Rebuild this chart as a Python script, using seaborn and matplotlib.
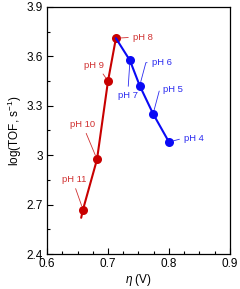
import matplotlib
matplotlib.use("Agg")
import matplotlib.pyplot as plt
import seaborn as sns
import pandas as pd
from matplotlib.ticker import MultipleLocator

sns.set_theme(style="white")
plt.rcParams['font.family'] = ['Liberation Sans', 'DejaVu Sans']
plt.rcParams['mathtext.fontset'] = 'custom'
plt.rcParams['mathtext.it'] = 'Liberation Sans:italic'
plt.rcParams['mathtext.rm'] = 'Liberation Sans'

# Data
red_labels = ["pH 8", "pH 9", "pH 10", "pH 11"]
red_x = [0.713, 0.700, 0.682, 0.659]
red_y = [3.71, 3.45, 2.975, 2.67]
red_tail_x = [0.659, 0.656]
red_tail_y = [2.67, 2.62]

blue_labels = ["pH 8", "pH 7", "pH 6", "pH 5", "pH 4"]
blue_x = [0.713, 0.736, 0.752, 0.774, 0.800]
blue_y = [3.71, 3.575, 3.422, 3.251, 3.08]

RED = "#C80000"
BLUE = "#0A0AF5"
RED_T = "#D03030"
BLUE_T = "#2A2AF0"

fig = plt.figure(figsize=(2.4, 2.89), dpi=100)
ax = fig.add_axes([0.196, 0.121, 0.762, 0.855])

red_df = pd.DataFrame({"x": red_x, "y": red_y, "order": range(len(red_x))})
blue_df = pd.DataFrame({"x": blue_x, "y": blue_y, "order": range(len(blue_x))})

ax.plot(red_tail_x, red_tail_y, color=RED, lw=1.5, zorder=2)
sns.lineplot(data=red_df, x="x", y="y", sort=False, color=RED, lw=1.5,
             marker="o", markersize=6.5, markeredgewidth=0, ax=ax, zorder=2)
sns.lineplot(data=blue_df.iloc[1:], x="x", y="y", sort=False, color=BLUE, lw=0,
             marker="o", markersize=6.5, markeredgewidth=0, ax=ax, zorder=3)
sns.lineplot(data=blue_df, x="x", y="y", sort=False, color=BLUE, lw=1.5,
             ax=ax, zorder=4)

fs = 6.8
lw_lead = 0.6

def lead(txt, xy, off, color, ha="center", va="center", relpos=(0.5, 0.5), conn="arc3"):
    ax.annotate(txt, xy=xy, xytext=off, textcoords="offset pixels",
                ha=ha, va=va, fontsize=fs, color=color,
                arrowprops=dict(arrowstyle="-", color=color, lw=lw_lead,
                                shrinkA=1, shrinkB=3, relpos=relpos,
                                connectionstyle=conn), zorder=5)

# red labels
lead(red_labels[0], (red_x[0], red_y[0]), (17, 1), RED_T, ha="left", relpos=(0, 0.5))
lead(red_labels[1], (red_x[1], red_y[1]), (-14, 16), RED_T, relpos=(0.8, 0.0))
lead(red_labels[2], (red_x[2], red_y[2]), (-14, 35), RED_T, relpos=(0.55, 0.0))
lead(red_labels[3], (red_x[3], red_y[3]), (-9, 30), RED_T, relpos=(0.5, 0.0))
# blue labels
lead(blue_labels[1], (blue_x[1], blue_y[1]), (-2, -35), BLUE_T, relpos=(0.5, 1.0))
lead(blue_labels[2], (blue_x[2], blue_y[2]), (22, 23), BLUE_T, relpos=(0.0, 0.5),
     conn="angle,angleA=0,angleB=75,rad=0")
lead(blue_labels[3], (blue_x[3], blue_y[3]), (20, 24), BLUE_T, relpos=(0.0, 0.5),
     conn="angle,angleA=0,angleB=75,rad=0")
lead(blue_labels[4], (blue_x[4], blue_y[4]), (25, 4), BLUE_T, relpos=(0.0, 0.5))

ax.set_xlim(0.6, 0.9)
ax.set_ylim(2.4, 3.9)
ax.xaxis.set_major_locator(MultipleLocator(0.1))
ax.xaxis.set_minor_locator(MultipleLocator(0.025))
ax.yaxis.set_major_locator(MultipleLocator(0.3))
ax.yaxis.set_minor_locator(MultipleLocator(0.15))
ax.set_xticklabels([f"{v:g}" for v in ax.get_xticks()])
ax.set_yticklabels([f"{v:g}" for v in ax.get_yticks()])
ax.tick_params(which="both", direction="in", bottom=True, left=True, top=False, right=False,
               labelsize=8.5, colors="black", pad=3)
ax.tick_params(which="major", length=4, width=0.8)
ax.tick_params(which="minor", length=2.5, width=0.8)
for s in ax.spines.values():
    s.set_color("black")
    s.set_linewidth(0.9)

ax.set_xlabel(r"$\it{\eta}$ (V)", fontsize=8.5, labelpad=1, color="black")
ax.set_ylabel(r"log(TOF, s$^{-1}$)", fontsize=8.5, labelpad=2, color="black")
ax.grid(False)

fig.savefig("out.png", dpi=100)
